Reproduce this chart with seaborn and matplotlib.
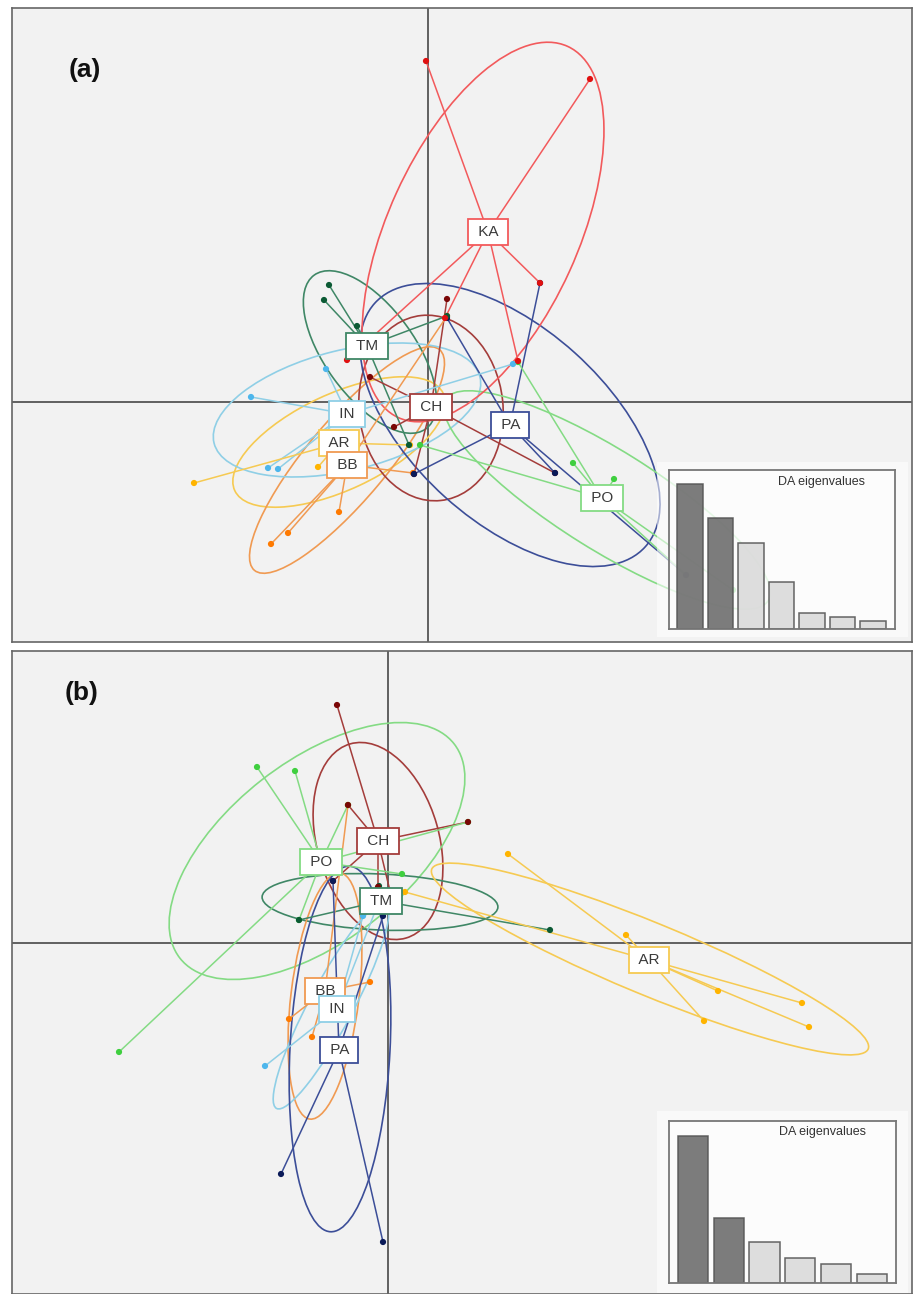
import numpy as np
import pandas as pd
import matplotlib
matplotlib.use("Agg")
import matplotlib.pyplot as plt
import seaborn as sns
from matplotlib.patches import Ellipse, Rectangle

sns.set_style("white")
plt.rcParams["font.family"] = ["Liberation Sans", "DejaVu Sans"]

# ---------------- colours ----------------
LINE_COLORS = {"KA": "#F25A5C", "TM": "#3F8766", "CH": "#A43D3B", "PA": "#3C4E98",
               "PO": "#84DB84", "IN": "#8FCFE6", "AR": "#F6CA52", "BB": "#F09A52"}
POINT_COLORS = {"KA": "#E01010", "TM": "#0B5A34", "CH": "#7A0606", "PA": "#0A1A58",
                "PO": "#3FCF3F", "IN": "#4DB6EC", "AR": "#FFB400", "BB": "#FF7A00"}

# ---------------- panel (a) data ----------------
A_GROUPS = ["AR", "BB", "TM", "IN", "CH", "PA", "PO", "KA"]
A_CENT_X = [-0.89, -0.81, -0.61, -0.81, 0.03, 0.82, 1.74, 0.60]
A_CENT_Y = [-0.41, -0.63, 0.56, -0.12, -0.05, -0.23, -0.96, 1.70]

A_PT_GROUP = (["KA"] * 6 + ["TM"] * 5 + ["CH"] * 5 + ["PA"] * 5 + ["PO"] * 6
              + ["IN"] * 5 + ["AR"] * 4 + ["BB"] * 6)
A_PT_X = [-0.02, 1.62, 1.12, 0.90, -0.81, 0.17,
          -0.99, -1.04, -0.71, 0.19, -0.19,
          0.19, -0.58, -0.34, -0.14, 1.27,
          1.12, 0.19, -0.14, 1.27, 2.58,
          1.45, 1.86, 0.90, -0.08, 3.05, 2.58,
          -1.02, -1.77, -1.60, -1.50, 0.85,
          -2.34, -1.10, -0.18, -0.86,
          -1.57, -1.40, -0.89, -0.86, -0.15, 0.19]
A_PT_Y = [3.41, 3.23, 1.19, 0.41, 0.42, 0.84,
          1.17, 1.02, 0.76, 0.86, -0.43,
          1.03, 0.25, -0.25, -0.72, -0.71,
          1.19, 0.84, -0.72, -0.71, -1.73,
          -0.61, -0.77, 0.40, -0.43, -1.88, -1.73,
          0.33, 0.05, -0.66, -0.67, 0.38,
          -0.81, -0.65, -0.43, -0.74,
          -1.42, -1.31, -1.10, -0.74, -0.71, 0.86]
A_POINT_ORDER = ["PO", "IN", "AR", "BB", "CH", "PA", "TM", "KA"]

# ellipse centre, semi-axes and angle (degrees) per group, same order as A_GROUPS
A_ELL_X = [-0.89, -0.81, -0.58, -0.81, 0.03, 0.82, 1.79, 0.55]
A_ELL_Y = [-0.40, -0.58, 0.50, -0.08, -0.06, -0.23, -0.98, 1.70]
A_ELL_A = [1.15, 1.44, 0.95, 1.37, 0.93, 1.82, 1.90, 2.04]
A_ELL_B = [0.48, 0.40, 0.45, 0.60, 0.72, 0.97, 0.50, 0.95]
A_ELL_ANG = [25, 50, -54, 14, 96, -42, -32, 65.5]

A_EIG = [145, 111, 86, 47, 16, 12, 8]

# ---------------- panel (b) data ----------------
B_GROUPS = ["CH", "PO", "TM", "AR", "BB", "IN", "PA"]
B_CENT_X = [-0.10, -0.67, -0.07, 2.61, -0.63, -0.51, -0.49]
B_CENT_Y = [1.02, 0.81, 0.42, -0.17, -0.48, -0.66, -1.07]

B_PT_GROUP = (["CH"] * 6 + ["PO"] * 7 + ["TM"] * 3 + ["AR"] * 7 + ["BB"] * 4
              + ["IN"] * 3 + ["PA"] * 4)
B_PT_X = [-0.51, -0.40, 0.80, -0.10, 0.02, -0.55,
          -1.31, -0.93, -0.40, 0.14, 0.80, -2.69, -0.89,
          -0.89, 1.62, -0.09,
          1.20, 2.38, 3.30, 4.14, 4.21, 3.16, 0.17,
          -0.18, -0.99, -0.76, -0.40,
          -1.23, -0.25, -0.10,
          -1.07, -0.05, -0.55, -0.05]
B_PT_Y = [2.38, 1.38, 1.21, 0.56, 0.52, 0.62,
          1.76, 1.72, 1.38, 0.69, 1.21, -1.09, 0.23,
          0.23, 0.13, 0.57,
          0.89, 0.08, -0.48, -0.60, -0.84, -0.78, 0.51,
          -0.39, -0.76, -0.94, 1.38,
          -1.23, 0.27, 0.39,
          -2.31, -2.99, 0.62, 0.27]
B_POINT_ORDER = ["BB", "IN", "AR", "PO", "TM", "CH", "PA"]

B_ELL_X = [-0.10, -0.71, -0.08, 2.62, -0.63, -0.57, -0.48]
B_ELL_Y = [1.02, 0.92, 0.41, -0.16, -0.53, -0.63, -1.06]
B_ELL_A = [1.01, 1.74, 1.18, 2.36, 1.24, 1.16, 1.83]
B_ELL_B = [0.61, 0.90, 0.28, 0.36, 0.34, 0.22, 0.50]
B_ELL_ANG = [106, 38, -2.5, -22.4, 83, 62, 87]

B_EIG = [147, 65, 41, 25, 19, 9]


def draw_panel(ax, groups, cent_x, cent_y, ell_x, ell_y, ell_a, ell_b, ell_ang,
               pt_group, pt_x, pt_y, point_order, xlim, ylim):
    ax.set_facecolor("#F2F2F2")
    ax.axhline(0, color="#555555", lw=1.3, zorder=1)
    ax.axvline(0, color="#555555", lw=1.3, zorder=1)
    cent = {g: (x, y) for g, x, y in zip(groups, cent_x, cent_y)}
    for g, ex, ey, ea, eb, ang in zip(groups, ell_x, ell_y, ell_a, ell_b, ell_ang):
        ax.add_patch(Ellipse((ex, ey), 2 * ea, 2 * eb, angle=ang, fill=False,
                             ec=LINE_COLORS[g], lw=1.2, zorder=2))
    for g, x, y in zip(pt_group, pt_x, pt_y):
        cx, cy = cent[g]
        ax.plot([cx, x], [cy, y], color=LINE_COLORS[g], lw=1.1, zorder=3,
                solid_capstyle="round")
    df = pd.DataFrame({"group": pt_group, "x": pt_x, "y": pt_y})
    df["rank"] = df["group"].map({g: i for i, g in enumerate(point_order)})
    df = df.sort_values("rank", kind="stable")
    sns.scatterplot(data=df, x="x", y="y", hue="group", palette=POINT_COLORS,
                    s=20, linewidth=0, legend=False, ax=ax, zorder=4)
    for g in groups:
        cx, cy = cent[g]
        ax.text(cx, cy, f" {g} ", ha="center", va="center", fontsize=11,
                color="#3A3A3A", zorder=7,
                bbox=dict(boxstyle="square,pad=0.38", fc="white",
                          ec=LINE_COLORS[g], lw=1.3))
    ax.set_xlim(*xlim)
    ax.set_ylim(*ylim)
    ax.set_xticks([])
    ax.set_yticks([])
    ax.set_xlabel("")
    ax.set_ylabel("")
    for s in ax.spines.values():
        s.set_color("#666666")
        s.set_linewidth(1.2)


def draw_inset(ax, vals, outer, box, xlim, ymax, title_xy):
    ax.add_patch(Rectangle((outer[0], outer[1]), outer[2], outer[3],
                           transform=ax.transAxes, fc="white", ec="none",
                           alpha=0.55, zorder=4.5))
    ins = ax.inset_axes(box)
    ins.set_facecolor((1, 1, 1, 0.55))
    cats = [str(i + 1) for i in range(len(vals))]
    cols = ["#6E6E6E", "#6E6E6E"] + ["#DADADA"] * (len(vals) - 2)
    sns.barplot(x=cats, y=vals, hue=cats, palette=dict(zip(cats, cols)),
                legend=False, width=0.85, saturation=1, edgecolor="#555555",
                linewidth=1.1, alpha=0.9, ax=ins)
    ins.set_xlim(*xlim)
    ins.set_ylim(0, ymax)
    ins.set_xticks([])
    ins.set_yticks([])
    ins.set_xlabel("")
    ins.set_ylabel("")
    for s in ins.spines.values():
        s.set_color("#777777")
        s.set_linewidth(1.3)
    ins.text(title_xy[0], title_xy[1], "DA eigenvalues", transform=ins.transAxes,
             ha="center", va="center", fontsize=9, color="#333333")


fig = plt.figure(figsize=(9.14, 12.94), dpi=100)
axA = fig.add_axes([12 / 914, (1294 - 642) / 1294, 900 / 914, 634 / 1294])
axB = fig.add_axes([12 / 914, 0.0, 900 / 914, 643 / 1294])

draw_panel(axA, A_GROUPS, A_CENT_X, A_CENT_Y, A_ELL_X, A_ELL_Y, A_ELL_A, A_ELL_B,
           A_ELL_ANG, A_PT_GROUP, A_PT_X, A_PT_Y, A_POINT_ORDER,
           (-4.16, 4.84), (-2.40, 3.94))
draw_panel(axB, B_GROUPS, B_CENT_X, B_CENT_Y, B_ELL_X, B_ELL_Y, B_ELL_A, B_ELL_B,
           B_ELL_ANG, B_PT_GROUP, B_PT_X, B_PT_Y, B_POINT_ORDER,
           (-3.76, 5.24), (-3.51, 2.92))

draw_inset(axA, A_EIG, (0.717, 0.008, 0.278, 0.276), [0.730, 0.0205, 0.251, 0.251],
           (-0.69, 6.72), 159, (0.677, 0.925))
draw_inset(axB, B_EIG, (0.717, 0.002, 0.279, 0.282), [0.730, 0.017, 0.252, 0.252],
           (-0.67, 5.67), 162, (0.678, 0.932))

fig.text(85 / 914, 1 - 70 / 1294, "(a)", ha="center", va="center", fontsize=19,
         fontweight="bold", color="#111111")
fig.text(82 / 914, 1 - 693 / 1294, "(b)", ha="center", va="center", fontsize=19,
         fontweight="bold", color="#111111")

fig.savefig("out.png", dpi=100)
